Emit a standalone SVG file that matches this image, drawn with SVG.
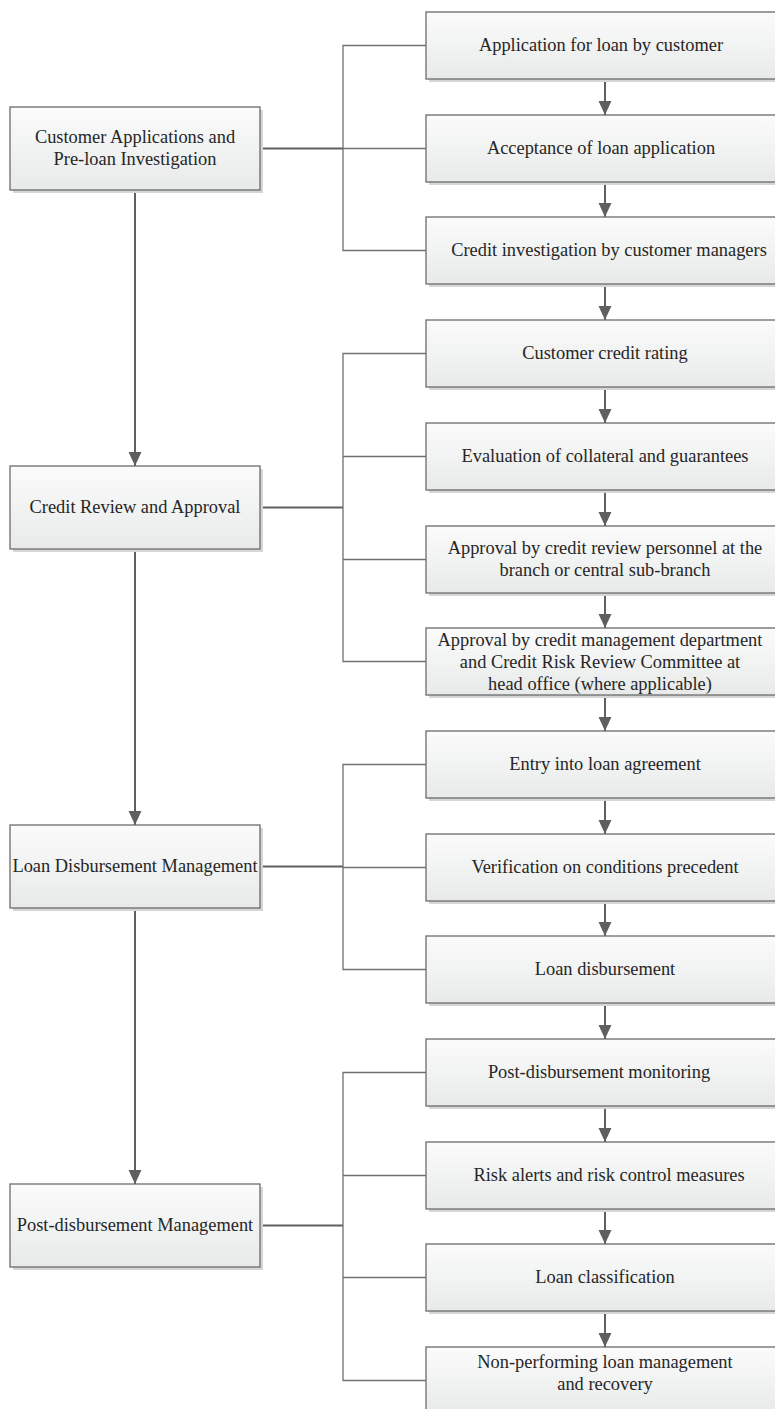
<svg xmlns="http://www.w3.org/2000/svg" width="775" height="1409" viewBox="0 0 775 1409">
  <style>
    .box { fill: url(#boxFill); stroke: #6b6b6b; stroke-width: 1.3; }
    .shadow { fill: #d6d6d6; }
    .label { font-family: "Liberation Serif", "Times New Roman", serif; font-size: 18.4px; fill: #262626; text-anchor: middle; }
    .flow { stroke: #5f5f5f; stroke-width: 2; fill: none; }
    .branch { stroke: #707070; stroke-width: 1.3; fill: none; }
  </style>
  <defs>
    <linearGradient id="boxFill" x1="0" y1="0" x2="0" y2="1">
      <stop offset="0" stop-color="#fbfbfb"/>
      <stop offset="1" stop-color="#e8eaea"/>
    </linearGradient>
    <marker id="arrow" markerUnits="userSpaceOnUse" markerWidth="14" markerHeight="14" viewBox="0 0 13 12" refX="13" refY="6" orient="auto">
      <path d="M0,0 L13,6 L0,12 z" fill="#5f5f5f"/>
    </marker>
  </defs>

  <rect width="775" height="1409" fill="#ffffff"/>

  <!-- connectors -->
  <g id="connectors">
    <!-- stage to stage -->
    <line class="flow" x1="135" y1="190" x2="135" y2="466" marker-end="url(#arrow)"/>
    <line class="flow" x1="135" y1="549" x2="135" y2="825" marker-end="url(#arrow)"/>
    <line class="flow" x1="135" y1="908" x2="135" y2="1184" marker-end="url(#arrow)"/>

    <!-- stage to bracket -->
    <line class="flow" x1="260" y1="148.5" x2="343" y2="148.5"/>
    <line class="flow" x1="260" y1="507.5" x2="343" y2="507.5"/>
    <line class="flow" x1="260" y1="866.5" x2="343" y2="866.5"/>
    <line class="flow" x1="260" y1="1225.5" x2="343" y2="1225.5"/>

    <!-- brackets -->
    <path class="branch" d="M426,45.5 H343 V250.5 H426 M343,148.5 H426"/>
    <path class="branch" d="M426,353.5 H343 V661.5 H426 M343,456.5 H426 M343,559.5 H426"/>
    <path class="branch" d="M426,764.5 H343 V969.5 H426 M343,867.5 H426"/>
    <path class="branch" d="M426,1072.5 H343 V1380.5 H426 M343,1175.5 H426 M343,1277.5 H426"/>

    <!-- step to step -->
    <line class="flow" x1="605" y1="79" x2="605" y2="115" marker-end="url(#arrow)"/>
    <line class="flow" x1="605" y1="182" x2="605" y2="217" marker-end="url(#arrow)"/>
    <line class="flow" x1="605" y1="284" x2="605" y2="320" marker-end="url(#arrow)"/>
    <line class="flow" x1="605" y1="387" x2="605" y2="423" marker-end="url(#arrow)"/>
    <line class="flow" x1="605" y1="490" x2="605" y2="526" marker-end="url(#arrow)"/>
    <line class="flow" x1="605" y1="593" x2="605" y2="628" marker-end="url(#arrow)"/>
    <line class="flow" x1="605" y1="695" x2="605" y2="731" marker-end="url(#arrow)"/>
    <line class="flow" x1="605" y1="798" x2="605" y2="834" marker-end="url(#arrow)"/>
    <line class="flow" x1="605" y1="901" x2="605" y2="936" marker-end="url(#arrow)"/>
    <line class="flow" x1="605" y1="1003" x2="605" y2="1039" marker-end="url(#arrow)"/>
    <line class="flow" x1="605" y1="1106" x2="605" y2="1142" marker-end="url(#arrow)"/>
    <line class="flow" x1="605" y1="1209" x2="605" y2="1244" marker-end="url(#arrow)"/>
    <line class="flow" x1="605" y1="1311" x2="605" y2="1347" marker-end="url(#arrow)"/>
  </g>

  <!-- stages -->
  <g id="stage-application">
    <rect class="shadow" x="13" y="110" width="250" height="83"/>
    <rect class="box" x="10" y="107" width="250" height="83"/>
    <text class="label" x="135" y="143">Customer Applications and</text>
    <text class="label" x="135" y="165">Pre-loan Investigation</text>
  </g>
  <g id="stage-review">
    <rect class="shadow" x="13" y="469" width="250" height="83"/>
    <rect class="box" x="10" y="466" width="250" height="83"/>
    <text class="label" x="135" y="513">Credit Review and Approval</text>
  </g>
  <g id="stage-disbursement">
    <rect class="shadow" x="13" y="828" width="250" height="83"/>
    <rect class="box" x="10" y="825" width="250" height="83"/>
    <text class="label" x="135" y="872">Loan Disbursement Management</text>
  </g>
  <g id="stage-post">
    <rect class="shadow" x="13" y="1187" width="250" height="83"/>
    <rect class="box" x="10" y="1184" width="250" height="83"/>
    <text class="label" x="135" y="1231">Post-disbursement Management</text>
  </g>

  <!-- steps -->
  <g id="step-application">
    <rect class="shadow" x="429" y="15" width="360" height="67"/>
    <rect class="box" x="426" y="12" width="360" height="67"/>
    <text class="label" x="601" y="51">Application for loan by customer</text>
  </g>
  <g id="step-acceptance">
    <rect class="shadow" x="429" y="118" width="360" height="67"/>
    <rect class="box" x="426" y="115" width="360" height="67"/>
    <text class="label" x="601" y="154">Acceptance of loan application</text>
  </g>
  <g id="step-investigation">
    <rect class="shadow" x="429" y="220" width="360" height="67"/>
    <rect class="box" x="426" y="217" width="360" height="67"/>
    <text class="label" x="609" y="256">Credit investigation by customer managers</text>
  </g>
  <g id="step-rating">
    <rect class="shadow" x="429" y="323" width="360" height="67"/>
    <rect class="box" x="426" y="320" width="360" height="67"/>
    <text class="label" x="605" y="359">Customer credit rating</text>
  </g>
  <g id="step-collateral">
    <rect class="shadow" x="429" y="426" width="360" height="67"/>
    <rect class="box" x="426" y="423" width="360" height="67"/>
    <text class="label" x="605" y="462">Evaluation of collateral and guarantees</text>
  </g>
  <g id="step-branch-approval">
    <rect class="shadow" x="429" y="529" width="360" height="67"/>
    <rect class="box" x="426" y="526" width="360" height="67"/>
    <text class="label" x="605" y="554">Approval by credit review personnel at the</text>
    <text class="label" x="605" y="576">branch or central sub-branch</text>
  </g>
  <g id="step-head-office-approval">
    <rect class="shadow" x="429" y="631" width="360" height="67"/>
    <rect class="box" x="426" y="628" width="360" height="67"/>
    <text class="label" x="600" y="646">Approval by credit management department</text>
    <text class="label" x="600" y="668">and Credit Risk Review Committee at</text>
    <text class="label" x="600" y="690">head office (where applicable)</text>
  </g>
  <g id="step-agreement">
    <rect class="shadow" x="429" y="734" width="360" height="67"/>
    <rect class="box" x="426" y="731" width="360" height="67"/>
    <text class="label" x="605" y="770">Entry into loan agreement</text>
  </g>
  <g id="step-verification">
    <rect class="shadow" x="429" y="837" width="360" height="67"/>
    <rect class="box" x="426" y="834" width="360" height="67"/>
    <text class="label" x="605" y="873">Verification on conditions precedent</text>
  </g>
  <g id="step-disbursement">
    <rect class="shadow" x="429" y="939" width="360" height="67"/>
    <rect class="box" x="426" y="936" width="360" height="67"/>
    <text class="label" x="605" y="975">Loan disbursement</text>
  </g>
  <g id="step-monitoring">
    <rect class="shadow" x="429" y="1042" width="360" height="67"/>
    <rect class="box" x="426" y="1039" width="360" height="67"/>
    <text class="label" x="599" y="1078">Post-disbursement monitoring</text>
  </g>
  <g id="step-risk-alerts">
    <rect class="shadow" x="429" y="1145" width="360" height="67"/>
    <rect class="box" x="426" y="1142" width="360" height="67"/>
    <text class="label" x="609" y="1181">Risk alerts and risk control measures</text>
  </g>
  <g id="step-classification">
    <rect class="shadow" x="429" y="1247" width="360" height="67"/>
    <rect class="box" x="426" y="1244" width="360" height="67"/>
    <text class="label" x="605" y="1283">Loan classification</text>
  </g>
  <g id="step-npl">
    <rect class="shadow" x="429" y="1350" width="360" height="67"/>
    <rect class="box" x="426" y="1347" width="360" height="67"/>
    <text class="label" x="605" y="1368">Non-performing loan management</text>
    <text class="label" x="605" y="1390">and recovery</text>
  </g>
</svg>
